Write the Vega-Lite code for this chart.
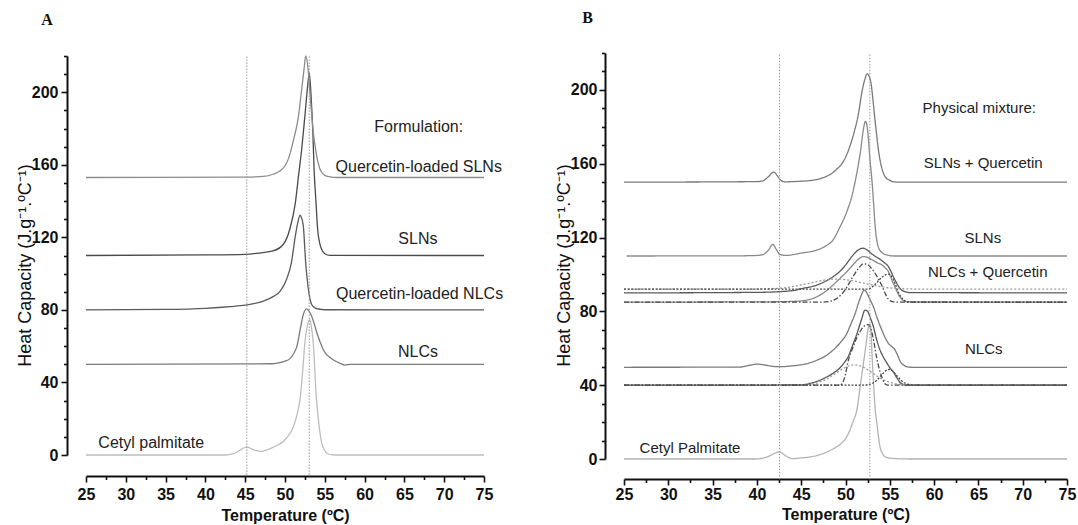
{
"$schema": "https://vega.github.io/schema/vega-lite/v6.json",
"autosize": {"type": "none"},
"width": 981,
"height": 406,
"padding": {"left": 86, "top": 53, "right": 11, "bottom": 66},
"background": "white",
"config": {
  "view": {"stroke": null},
  "axis": {"labelFont": "Liberation Sans", "titleFont": "Liberation Sans", "labelFontSize": 16, "labelFontWeight": "bold", "labelColor": "#111", "domainColor": "#111", "domainWidth": 2, "tickColor": "#111", "tickWidth": 1.6, "tickSize": 6, "grid": false, "titleColor": "#111", "labelFlush": false, "labelOverlap": false}
},
"datasets": {
"curvesA": [
{"s":"a_cp","t":25,"v":0},{"s":"a_cp","t":42.5,"v":0},{"s":"a_cp","t":43.1,"v":0.3},{"s":"a_cp","t":43.9,"v":1.4},{"s":"a_cp","t":44.6,"v":3.4},{"s":"a_cp","t":45.2,"v":4.5},{"s":"a_cp","t":45.8,"v":3.4},{"s":"a_cp","t":46.4,"v":2.4},{"s":"a_cp","t":47.0,"v":2.0},{"s":"a_cp","t":47.7,"v":2.8},{"s":"a_cp","t":48.5,"v":4.2},{"s":"a_cp","t":49.2,"v":5.8},{"s":"a_cp","t":49.8,"v":7.5},{"s":"a_cp","t":50.4,"v":10.5},{"s":"a_cp","t":51.0,"v":15},{"s":"a_cp","t":51.5,"v":22},{"s":"a_cp","t":51.9,"v":31},{"s":"a_cp","t":52.2,"v":45},{"s":"a_cp","t":52.5,"v":62},{"s":"a_cp","t":52.8,"v":71},{"s":"a_cp","t":53.1,"v":74.8},{"s":"a_cp","t":53.3,"v":71},{"s":"a_cp","t":53.55,"v":62},{"s":"a_cp","t":53.9,"v":34},{"s":"a_cp","t":54.2,"v":19.5},{"s":"a_cp","t":54.4,"v":12},{"s":"a_cp","t":54.6,"v":6.8},{"s":"a_cp","t":54.9,"v":3.2},{"s":"a_cp","t":55.4,"v":0.7},{"s":"a_cp","t":56,"v":0.1},{"s":"a_cp","t":56.5,"v":0},{"s":"a_cp","t":75,"v":0},
{"s":"a_nlc","t":25,"v":50},{"s":"a_nlc","t":48.5,"v":50.3},{"s":"a_nlc","t":49.4,"v":51},{"s":"a_nlc","t":50.0,"v":51.8},{"s":"a_nlc","t":50.6,"v":53},{"s":"a_nlc","t":51.1,"v":56},{"s":"a_nlc","t":51.5,"v":60},{"s":"a_nlc","t":51.9,"v":69},{"s":"a_nlc","t":52.3,"v":77.5},{"s":"a_nlc","t":52.7,"v":80.6},{"s":"a_nlc","t":53.0,"v":79.5},{"s":"a_nlc","t":53.35,"v":76.5},{"s":"a_nlc","t":53.7,"v":72},{"s":"a_nlc","t":54.0,"v":67.4},{"s":"a_nlc","t":54.4,"v":62.5},{"s":"a_nlc","t":54.8,"v":58.2},{"s":"a_nlc","t":55.2,"v":55.5},{"s":"a_nlc","t":55.7,"v":53.6},{"s":"a_nlc","t":56.3,"v":51.8},{"s":"a_nlc","t":56.9,"v":50.6},{"s":"a_nlc","t":57.5,"v":49.6},{"s":"a_nlc","t":58.2,"v":50},{"s":"a_nlc","t":75,"v":50},
{"s":"a_qnlc","t":25,"v":80},{"s":"a_qnlc","t":35,"v":80.3},{"s":"a_qnlc","t":40,"v":80.9},{"s":"a_qnlc","t":43.1,"v":81.8},{"s":"a_qnlc","t":45.0,"v":82.6},{"s":"a_qnlc","t":47.3,"v":84.9},{"s":"a_qnlc","t":48.5,"v":87.3},{"s":"a_qnlc","t":49.4,"v":90.4},{"s":"a_qnlc","t":50.2,"v":96.9},{"s":"a_qnlc","t":50.8,"v":106},{"s":"a_qnlc","t":51.3,"v":120.8},{"s":"a_qnlc","t":51.6,"v":128},{"s":"a_qnlc","t":51.9,"v":132.2},{"s":"a_qnlc","t":52.1,"v":130.5},{"s":"a_qnlc","t":52.3,"v":126.3},{"s":"a_qnlc","t":52.6,"v":106},{"s":"a_qnlc","t":53.0,"v":89.5},{"s":"a_qnlc","t":53.35,"v":83},{"s":"a_qnlc","t":53.8,"v":81},{"s":"a_qnlc","t":54.2,"v":80.5},{"s":"a_qnlc","t":55,"v":80.1},{"s":"a_qnlc","t":75,"v":80},
{"s":"a_sln","t":25,"v":110},{"s":"a_sln","t":40,"v":110.3},{"s":"a_sln","t":45,"v":110.6},{"s":"a_sln","t":47,"v":111.5},{"s":"a_sln","t":48.5,"v":112.5},{"s":"a_sln","t":49.8,"v":116.2},{"s":"a_sln","t":50.6,"v":124.5},{"s":"a_sln","t":51.3,"v":139},{"s":"a_sln","t":51.7,"v":154},{"s":"a_sln","t":52.1,"v":168.7},{"s":"a_sln","t":52.5,"v":187},{"s":"a_sln","t":52.85,"v":203.6},{"s":"a_sln","t":53.05,"v":210.5},{"s":"a_sln","t":53.3,"v":196},{"s":"a_sln","t":53.5,"v":178},{"s":"a_sln","t":53.65,"v":158},{"s":"a_sln","t":53.9,"v":139},{"s":"a_sln","t":54.1,"v":124.5},{"s":"a_sln","t":54.35,"v":117},{"s":"a_sln","t":54.6,"v":113.4},{"s":"a_sln","t":55.0,"v":111},{"s":"a_sln","t":55.65,"v":110.1},{"s":"a_sln","t":75,"v":110},
{"s":"a_qsln","t":25,"v":153},{"s":"a_qsln","t":45,"v":153.2},{"s":"a_qsln","t":47.3,"v":153.6},{"s":"a_qsln","t":48.5,"v":154.8},{"s":"a_qsln","t":49.4,"v":156.7},{"s":"a_qsln","t":50.0,"v":159.5},{"s":"a_qsln","t":50.4,"v":163},{"s":"a_qsln","t":51.0,"v":172.4},{"s":"a_qsln","t":51.7,"v":187},{"s":"a_qsln","t":52.1,"v":201.8},{"s":"a_qsln","t":52.4,"v":213},{"s":"a_qsln","t":52.6,"v":220},{"s":"a_qsln","t":52.9,"v":213},{"s":"a_qsln","t":53.2,"v":196},{"s":"a_qsln","t":53.55,"v":178},{"s":"a_qsln","t":53.9,"v":167},{"s":"a_qsln","t":54.4,"v":157.6},{"s":"a_qsln","t":55.0,"v":154.2},{"s":"a_qsln","t":55.65,"v":153.4},{"s":"a_qsln","t":56.5,"v":153},{"s":"a_qsln","t":75,"v":153}
],
"curvesB": [
{"s":"b_cp","t":25,"v":0},{"s":"b_cp","t":39.8,"v":0},{"s":"b_cp","t":40.6,"v":0.4},{"s":"b_cp","t":41.3,"v":1.4},{"s":"b_cp","t":41.9,"v":2.9},{"s":"b_cp","t":42.55,"v":3.9},{"s":"b_cp","t":43.0,"v":2.6},{"s":"b_cp","t":43.5,"v":1.0},{"s":"b_cp","t":44.1,"v":0.2},{"s":"b_cp","t":45.0,"v":0.6},{"s":"b_cp","t":46.0,"v":1.1},{"s":"b_cp","t":47.0,"v":2.2},{"s":"b_cp","t":47.9,"v":3.8},{"s":"b_cp","t":48.5,"v":5.2},{"s":"b_cp","t":49.0,"v":6.6},{"s":"b_cp","t":49.5,"v":8.3},{"s":"b_cp","t":50.0,"v":11},{"s":"b_cp","t":50.5,"v":15.6},{"s":"b_cp","t":50.9,"v":21},{"s":"b_cp","t":51.3,"v":27},{"s":"b_cp","t":51.65,"v":39},{"s":"b_cp","t":52.0,"v":51},{"s":"b_cp","t":52.3,"v":61.5},{"s":"b_cp","t":52.6,"v":71.7},{"s":"b_cp","t":52.75,"v":73},{"s":"b_cp","t":52.85,"v":71.7},{"s":"b_cp","t":53.0,"v":56},{"s":"b_cp","t":53.2,"v":38},{"s":"b_cp","t":53.35,"v":27},{"s":"b_cp","t":53.55,"v":19},{"s":"b_cp","t":53.9,"v":6.5},{"s":"b_cp","t":54.2,"v":2.8},{"s":"b_cp","t":54.5,"v":1.1},{"s":"b_cp","t":55.4,"v":0.3},{"s":"b_cp","t":57.5,"v":0},{"s":"b_cp","t":75,"v":0},
{"s":"b_nlc","t":25,"v":49.7},{"s":"b_nlc","t":38,"v":49.8},{"s":"b_nlc","t":39.2,"v":50.8},{"s":"b_nlc","t":40.0,"v":51.4},{"s":"b_nlc","t":40.8,"v":51.0},{"s":"b_nlc","t":41.8,"v":50.2},{"s":"b_nlc","t":42.6,"v":50.0},{"s":"b_nlc","t":44,"v":50.5},{"s":"b_nlc","t":45.5,"v":51.5},{"s":"b_nlc","t":46.8,"v":53.6},{"s":"b_nlc","t":47.8,"v":56},{"s":"b_nlc","t":48.6,"v":59},{"s":"b_nlc","t":49.4,"v":63},{"s":"b_nlc","t":50.15,"v":68},{"s":"b_nlc","t":50.6,"v":73},{"s":"b_nlc","t":51.1,"v":79},{"s":"b_nlc","t":51.5,"v":85},{"s":"b_nlc","t":51.85,"v":89.5},{"s":"b_nlc","t":52.1,"v":91.5},{"s":"b_nlc","t":52.35,"v":90.5},{"s":"b_nlc","t":52.7,"v":87},{"s":"b_nlc","t":53.15,"v":82.5},{"s":"b_nlc","t":53.6,"v":76},{"s":"b_nlc","t":54.1,"v":69.9},{"s":"b_nlc","t":54.5,"v":65.5},{"s":"b_nlc","t":54.85,"v":62.6},{"s":"b_nlc","t":55.2,"v":61},{"s":"b_nlc","t":55.6,"v":59},{"s":"b_nlc","t":55.9,"v":56},{"s":"b_nlc","t":56.2,"v":52.7},{"s":"b_nlc","t":56.6,"v":50.8},{"s":"b_nlc","t":56.9,"v":50},{"s":"b_nlc","t":57.5,"v":49.7},{"s":"b_nlc","t":75,"v":49.7},
{"s":"b_nlcf","t":25,"v":40},{"s":"b_nlcf","t":44.9,"v":40.1},{"s":"b_nlcf","t":46.0,"v":41},{"s":"b_nlcf","t":47.0,"v":42.5},{"s":"b_nlcf","t":47.9,"v":44.5},{"s":"b_nlcf","t":48.7,"v":46.8},{"s":"b_nlcf","t":49.4,"v":49.5},{"s":"b_nlcf","t":49.9,"v":52.5},{"s":"b_nlcf","t":50.3,"v":55.4},{"s":"b_nlcf","t":50.8,"v":61.5},{"s":"b_nlcf","t":51.3,"v":68},{"s":"b_nlcf","t":51.8,"v":75.5},{"s":"b_nlcf","t":52.2,"v":80.7},{"s":"b_nlcf","t":52.5,"v":80},{"s":"b_nlcf","t":52.8,"v":76.5},{"s":"b_nlcf","t":53.15,"v":71.7},{"s":"b_nlcf","t":53.5,"v":65},{"s":"b_nlcf","t":53.9,"v":59},{"s":"b_nlcf","t":54.3,"v":55},{"s":"b_nlcf","t":54.7,"v":51.8},{"s":"b_nlcf","t":55.0,"v":49.5},{"s":"b_nlcf","t":55.4,"v":47.2},{"s":"b_nlcf","t":55.8,"v":44},{"s":"b_nlcf","t":56.2,"v":41.3},{"s":"b_nlcf","t":56.6,"v":40.3},{"s":"b_nlcf","t":56.9,"v":40},{"s":"b_nlcf","t":75,"v":40},
{"s":"b_nlc1","t":25,"v":40},{"s":"b_nlc1","t":44,"v":40},{"s":"b_nlc1","t":45,"v":40.1},{"s":"b_nlc1","t":46,"v":40.5},{"s":"b_nlc1","t":47,"v":41.5},{"s":"b_nlc1","t":48,"v":43.6},{"s":"b_nlc1","t":49,"v":46.7},{"s":"b_nlc1","t":50,"v":49.7},{"s":"b_nlc1","t":51,"v":51},{"s":"b_nlc1","t":52,"v":49.7},{"s":"b_nlc1","t":53,"v":46.7},{"s":"b_nlc1","t":54,"v":43.6},{"s":"b_nlc1","t":55,"v":41.5},{"s":"b_nlc1","t":56,"v":40.5},{"s":"b_nlc1","t":57,"v":40.1},{"s":"b_nlc1","t":58,"v":40},{"s":"b_nlc1","t":75,"v":40},
{"s":"b_nlc2","t":25,"v":40},{"s":"b_nlc2","t":49.3,"v":40},{"s":"b_nlc2","t":49.6,"v":40.8},{"s":"b_nlc2","t":50.0,"v":46},{"s":"b_nlc2","t":50.3,"v":53},{"s":"b_nlc2","t":50.8,"v":60},{"s":"b_nlc2","t":51.3,"v":66},{"s":"b_nlc2","t":51.7,"v":69.5},{"s":"b_nlc2","t":52.0,"v":71.5},{"s":"b_nlc2","t":52.3,"v":72.6},{"s":"b_nlc2","t":52.6,"v":72.8},{"s":"b_nlc2","t":52.85,"v":70.5},{"s":"b_nlc2","t":53.1,"v":66},{"s":"b_nlc2","t":53.5,"v":55.4},{"s":"b_nlc2","t":53.8,"v":49},{"s":"b_nlc2","t":54.1,"v":44.5},{"s":"b_nlc2","t":54.45,"v":40.8},{"s":"b_nlc2","t":54.8,"v":40},{"s":"b_nlc2","t":75,"v":40},
{"s":"b_nlc3","t":25,"v":40},{"s":"b_nlc3","t":52.0,"v":40},{"s":"b_nlc3","t":52.5,"v":40.25},{"s":"b_nlc3","t":53.0,"v":40.9},{"s":"b_nlc3","t":53.5,"v":42.5},{"s":"b_nlc3","t":54.0,"v":45.2},{"s":"b_nlc3","t":54.5,"v":47.7},{"s":"b_nlc3","t":54.9,"v":48.5},{"s":"b_nlc3","t":55.3,"v":47.7},{"s":"b_nlc3","t":55.8,"v":45.2},{"s":"b_nlc3","t":56.3,"v":42.5},{"s":"b_nlc3","t":56.8,"v":40.9},{"s":"b_nlc3","t":57.3,"v":40.25},{"s":"b_nlc3","t":58,"v":40},{"s":"b_nlc3","t":75,"v":40},
{"s":"b_nq","t":25,"v":90},{"s":"b_nq","t":40,"v":90.3},{"s":"b_nq","t":44.0,"v":91.2},{"s":"b_nq","t":44.9,"v":92.2},{"s":"b_nq","t":46.8,"v":94.3},{"s":"b_nq","t":48.6,"v":98.8},{"s":"b_nq","t":49.4,"v":101.8},{"s":"b_nq","t":50.15,"v":106},{"s":"b_nq","t":50.6,"v":109},{"s":"b_nq","t":51.1,"v":111.8},{"s":"b_nq","t":51.5,"v":113.5},{"s":"b_nq","t":51.95,"v":114.2},{"s":"b_nq","t":52.4,"v":113.4},{"s":"b_nq","t":52.8,"v":111.8},{"s":"b_nq","t":53.3,"v":110},{"s":"b_nq","t":53.9,"v":108.2},{"s":"b_nq","t":54.4,"v":106.3},{"s":"b_nq","t":54.85,"v":104.2},{"s":"b_nq","t":55.1,"v":102},{"s":"b_nq","t":55.4,"v":98.8},{"s":"b_nq","t":55.7,"v":96},{"s":"b_nq","t":56.0,"v":93.4},{"s":"b_nq","t":56.35,"v":91.5},{"s":"b_nq","t":56.7,"v":90.7},{"s":"b_nq","t":57.2,"v":90.2},{"s":"b_nq","t":75,"v":90},
{"s":"b_nqf","t":25,"v":85},{"s":"b_nqf","t":42,"v":85.2},{"s":"b_nqf","t":44.9,"v":85.6},{"s":"b_nqf","t":46.0,"v":86.5},{"s":"b_nqf","t":46.8,"v":88},{"s":"b_nqf","t":47.8,"v":91},{"s":"b_nqf","t":48.6,"v":94.3},{"s":"b_nqf","t":49.4,"v":98},{"s":"b_nqf","t":50.15,"v":101.5},{"s":"b_nqf","t":50.8,"v":105},{"s":"b_nqf","t":51.4,"v":108},{"s":"b_nqf","t":52.0,"v":109.7},{"s":"b_nqf","t":52.5,"v":109.2},{"s":"b_nqf","t":53.15,"v":107.5},{"s":"b_nqf","t":53.6,"v":106.3},{"s":"b_nqf","t":54.1,"v":105.2},{"s":"b_nqf","t":54.5,"v":103.5},{"s":"b_nqf","t":54.85,"v":101.5},{"s":"b_nqf","t":55.1,"v":98.5},{"s":"b_nqf","t":55.4,"v":95.2},{"s":"b_nqf","t":55.7,"v":92},{"s":"b_nqf","t":56.0,"v":88.9},{"s":"b_nqf","t":56.35,"v":86.6},{"s":"b_nqf","t":56.7,"v":85.5},{"s":"b_nqf","t":57.2,"v":85.1},{"s":"b_nqf","t":75,"v":85},
{"s":"b_nq1","t":25,"v":92},{"s":"b_nq1","t":38,"v":92},{"s":"b_nq1","t":40,"v":92.1},{"s":"b_nq1","t":42,"v":92.4},{"s":"b_nq1","t":43,"v":92.7},{"s":"b_nq1","t":44,"v":93.4},{"s":"b_nq1","t":45,"v":94.3},{"s":"b_nq1","t":46,"v":95.3},{"s":"b_nq1","t":47,"v":96.4},{"s":"b_nq1","t":48,"v":97.2},{"s":"b_nq1","t":49,"v":97.5},{"s":"b_nq1","t":50,"v":97.2},{"s":"b_nq1","t":51,"v":96.4},{"s":"b_nq1","t":52,"v":95.3},{"s":"b_nq1","t":53,"v":94.3},{"s":"b_nq1","t":54,"v":93.4},{"s":"b_nq1","t":55,"v":92.7},{"s":"b_nq1","t":56,"v":92.4},{"s":"b_nq1","t":57,"v":92.2},{"s":"b_nq1","t":58,"v":92.1},{"s":"b_nq1","t":60,"v":92},{"s":"b_nq1","t":75,"v":92},
{"s":"b_nq2","t":25,"v":85},{"s":"b_nq2","t":47.5,"v":85},{"s":"b_nq2","t":48.3,"v":85.5},{"s":"b_nq2","t":49.0,"v":87},{"s":"b_nq2","t":49.6,"v":89.5},{"s":"b_nq2","t":50.0,"v":92},{"s":"b_nq2","t":50.5,"v":96},{"s":"b_nq2","t":51.0,"v":100},{"s":"b_nq2","t":51.5,"v":103.5},{"s":"b_nq2","t":52.0,"v":105.8},{"s":"b_nq2","t":52.4,"v":105.6},{"s":"b_nq2","t":52.8,"v":104},{"s":"b_nq2","t":53.15,"v":102},{"s":"b_nq2","t":53.6,"v":98.5},{"s":"b_nq2","t":54.1,"v":94},{"s":"b_nq2","t":54.5,"v":89.5},{"s":"b_nq2","t":54.85,"v":86.5},{"s":"b_nq2","t":55.3,"v":85.3},{"s":"b_nq2","t":55.8,"v":85},{"s":"b_nq2","t":75,"v":85},
{"s":"b_nq3","t":25,"v":92},{"s":"b_nq3","t":52.5,"v":92},{"s":"b_nq3","t":53.2,"v":94},{"s":"b_nq3","t":53.9,"v":97.5},{"s":"b_nq3","t":54.5,"v":99.8},{"s":"b_nq3","t":54.85,"v":100.2},{"s":"b_nq3","t":55.2,"v":99},{"s":"b_nq3","t":55.6,"v":95},{"s":"b_nq3","t":56.0,"v":90},{"s":"b_nq3","t":56.5,"v":86.5},{"s":"b_nq3","t":57.0,"v":85.2},{"s":"b_nq3","t":58,"v":85},{"s":"b_nq3","t":75,"v":85},
{"s":"b_sln","t":25.3,"v":110},{"s":"b_sln","t":38,"v":110.1},{"s":"b_sln","t":40.0,"v":110.3},{"s":"b_sln","t":40.7,"v":110.8},{"s":"b_sln","t":41.3,"v":113.2},{"s":"b_sln","t":41.8,"v":116.3},{"s":"b_sln","t":42.2,"v":113.5},{"s":"b_sln","t":42.6,"v":110.8},{"s":"b_sln","t":43.2,"v":110.3},{"s":"b_sln","t":44.9,"v":111.5},{"s":"b_sln","t":46.8,"v":113.3},{"s":"b_sln","t":47.8,"v":115.5},{"s":"b_sln","t":48.6,"v":118.7},{"s":"b_sln","t":49.4,"v":126},{"s":"b_sln","t":49.9,"v":131},{"s":"b_sln","t":50.3,"v":136},{"s":"b_sln","t":50.7,"v":142},{"s":"b_sln","t":51.2,"v":153},{"s":"b_sln","t":51.7,"v":167},{"s":"b_sln","t":52.0,"v":178},{"s":"b_sln","t":52.25,"v":183},{"s":"b_sln","t":52.5,"v":178},{"s":"b_sln","t":52.75,"v":163},{"s":"b_sln","t":53.0,"v":150},{"s":"b_sln","t":53.15,"v":140},{"s":"b_sln","t":53.35,"v":126},{"s":"b_sln","t":53.7,"v":115},{"s":"b_sln","t":54.2,"v":111.5},{"s":"b_sln","t":54.7,"v":110.5},{"s":"b_sln","t":55.5,"v":110},{"s":"b_sln","t":75,"v":110},
{"s":"b_slnq","t":25,"v":150},{"s":"b_slnq","t":40,"v":150.3},{"s":"b_slnq","t":40.7,"v":150.8},{"s":"b_slnq","t":41.3,"v":153},{"s":"b_slnq","t":41.9,"v":155.5},{"s":"b_slnq","t":42.3,"v":153.5},{"s":"b_slnq","t":42.7,"v":151},{"s":"b_slnq","t":43.2,"v":150.2},{"s":"b_slnq","t":44.5,"v":150.4},{"s":"b_slnq","t":46.5,"v":151.2},{"s":"b_slnq","t":47.5,"v":152.5},{"s":"b_slnq","t":48.4,"v":154.6},{"s":"b_slnq","t":49.0,"v":157},{"s":"b_slnq","t":49.6,"v":160},{"s":"b_slnq","t":50.1,"v":164.5},{"s":"b_slnq","t":50.6,"v":171},{"s":"b_slnq","t":51.0,"v":177.5},{"s":"b_slnq","t":51.4,"v":185.5},{"s":"b_slnq","t":51.9,"v":200},{"s":"b_slnq","t":52.2,"v":206},{"s":"b_slnq","t":52.45,"v":208.7},{"s":"b_slnq","t":52.7,"v":207},{"s":"b_slnq","t":52.9,"v":203},{"s":"b_slnq","t":53.1,"v":194.6},{"s":"b_slnq","t":53.3,"v":185},{"s":"b_slnq","t":53.5,"v":176.4},{"s":"b_slnq","t":53.7,"v":168},{"s":"b_slnq","t":53.9,"v":161.9},{"s":"b_slnq","t":54.2,"v":156},{"s":"b_slnq","t":54.5,"v":152.8},{"s":"b_slnq","t":55.0,"v":151},{"s":"b_slnq","t":55.4,"v":150.2},{"s":"b_slnq","t":56,"v":150},{"s":"b_slnq","t":75,"v":150}
]
},
"layer": [
{
  "layer": [
    {
      "data": {"name": "curvesA"},
      "mark": {"type": "line", "interpolate": "monotone", "strokeWidth": 1.3},
      "encoding": {
        "x": {"field": "t", "type": "quantitative", "scale": {"domain": [25, 75], "range": [0, 398], "nice": false, "zero": false},
              "axis": {"orient": "bottom", "offset": 17, "values": [25,30,35,40,45,50,55,60,65,70,75], "format": "d", "title": "Temperature (ºC)", "titleFontSize": 16, "titleFontWeight": "bold", "titleBaseline": "middle", "titleY": 39, "labelPadding": 4}},
        "y": {"field": "v", "type": "quantitative", "scale": {"domain": [0, 220], "range": [402, 3], "nice": false, "zero": false},
              "axis": {"orient": "left", "offset": 19, "values": [0,40,80,120,160,200], "format": "d", "title": "Heat Capacity (J.g⁻¹.ºC⁻¹)", "titleFontSize": 18, "titleFontWeight": "normal", "titleAngle": -90, "titleBaseline": "middle", "titleAlign": "center", "titleX": -42, "titleY": 212, "labelPadding": 3}},
        "color": {"field": "s", "type": "nominal", "legend": null,
                  "scale": {"domain": ["a_cp","a_nlc","a_qnlc","a_sln","a_qsln"], "range": ["#bdbdbd","#7c7c7c","#5a5a5a","#4a4a4a","#8c8c8c"]}}
      }
    },
    {
      "data": {"values": [{"t": 45.2, "lo": -11, "hi": 220}, {"t": 53.05, "lo": -11, "hi": 220}]},
      "mark": {"type": "rule", "color": "#9a9a9a", "strokeWidth": 1, "strokeDash": [1.5, 1.5]},
      "encoding": {
        "x": {"field": "t", "type": "quantitative", "scale": {"domain": [25, 75], "range": [0, 398], "nice": false, "zero": false},
              "axis": {"orient": "bottom", "offset": 17, "values": [27.5,32.5,37.5,42.5,47.5,52.5,57.5,62.5,67.5,72.5], "labels": false, "domain": false, "tickSize": 3.5, "title": null}},
        "y": {"field": "lo", "type": "quantitative", "scale": {"domain": [0, 220], "range": [402, 3], "nice": false, "zero": false},
              "axis": {"orient": "left", "offset": 19, "values": [10,20,30,50,60,70,90,100,110,130,140,150,170,180,190,210,220], "labels": false, "domain": false, "tickSize": 3.5, "title": null}},
        "y2": {"field": "hi"}
      }
    },
    {
      "data": {"values": [
        {"t": 66.8, "v": 181, "label": "Formulation:"},
        {"t": 66.8, "v": 159, "label": "Quercetin-loaded SLNs"},
        {"t": 66.7, "v": 119.3, "label": "SLNs"},
        {"t": 66.9, "v": 88.5, "label": "Quercetin-loaded NLCs"},
        {"t": 66.7, "v": 57, "label": "NLCs"},
        {"t": 33.2, "v": 6.8, "label": "Cetyl palmitate"}
      ]},
      "mark": {"type": "text", "font": "Liberation Sans", "fontSize": 16, "color": "#222", "align": "center", "baseline": "middle"},
      "encoding": {
        "x": {"field": "t", "type": "quantitative", "scale": {"domain": [25, 75], "range": [0, 398], "nice": false, "zero": false}, "axis": null},
        "y": {"field": "v", "type": "quantitative", "scale": {"domain": [0, 220], "range": [402, 3], "nice": false, "zero": false}, "axis": null},
        "text": {"field": "label"}
      }
    },
    {
      "data": {"values": [{"t": 20.1, "v": 240, "label": "A"}]},
      "mark": {"type": "text", "font": "Liberation Serif", "fontSize": 16, "fontWeight": "bold", "color": "#111", "align": "center", "baseline": "middle"},
      "encoding": {
        "x": {"field": "t", "type": "quantitative", "scale": {"domain": [25, 75], "range": [0, 398], "nice": false, "zero": false}, "axis": null},
        "y": {"field": "v", "type": "quantitative", "scale": {"domain": [0, 220], "range": [402, 3], "nice": false, "zero": false}, "axis": null},
        "text": {"field": "label"}
      }
    }
  ],
  "resolve": {"axis": {"x": "independent", "y": "independent"}}
},
{
  "layer": [
    {
      "data": {"name": "curvesB"},
      "mark": {"type": "line", "interpolate": "monotone", "strokeWidth": 1.3},
      "encoding": {
        "x": {"field": "t", "type": "quantitative", "scale": {"domain": [25, 75], "range": [538, 981], "nice": false, "zero": false},
              "axis": {"orient": "bottom", "offset": 20, "values": [25,30,35,40,45,50,55,60,65,70,75], "format": "d", "title": "Temperature (ºC)", "titleFontSize": 16, "titleFontWeight": "bold", "titleBaseline": "middle", "titleY": 35, "labelPadding": 1}},
        "y": {"field": "v", "type": "quantitative", "scale": {"domain": [0, 220], "range": [406, 0], "nice": false, "zero": false},
              "axis": {"orient": "left", "offset": -519, "values": [0,40,80,120,160,200], "format": "d", "title": "Heat Capacity (J.g⁻¹.ºC⁻¹)", "titleFontSize": 18, "titleFontWeight": "normal", "titleAngle": -90, "titleBaseline": "middle", "titleAlign": "center", "titleX": -41, "titleY": 212, "labelPadding": 2}},
        "color": {"field": "s", "type": "nominal", "legend": null,
                  "scale": {"domain": ["b_cp","b_nlc","b_nlcf","b_nlc1","b_nlc2","b_nlc3","b_nq","b_nqf","b_nq1","b_nq2","b_nq3","b_sln","b_slnq"],
                            "range": ["#b3b3b3","#7a7a7a","#555555","#9a9a9a","#4a4a4a","#4a4a4a","#5a5a5a","#8a8a8a","#9a9a9a","#4a4a4a","#4a4a4a","#8a8a8a","#7a7a7a"]}},
        "strokeDash": {"field": "s", "type": "nominal", "legend": null,
                  "scale": {"domain": ["b_cp","b_nlc","b_nlcf","b_nlc1","b_nlc2","b_nlc3","b_nq","b_nqf","b_nq1","b_nq2","b_nq3","b_sln","b_slnq"],
                            "range": [[1,0],[1,0],[1,0],[2,2],[5,2,1.5,2],[2,1.5],[1,0],[1,0],[2,2],[5,2,1.5,2],[2,1.5],[1,0],[1,0]]}}
      }
    },
    {
      "data": {"values": [{"t": 42.55, "lo": -11, "hi": 220}, {"t": 52.75, "lo": -11, "hi": 220}]},
      "mark": {"type": "rule", "color": "#9a9a9a", "strokeWidth": 1, "strokeDash": [1.5, 1.5]},
      "encoding": {
        "x": {"field": "t", "type": "quantitative", "scale": {"domain": [25, 75], "range": [538, 981], "nice": false, "zero": false},
              "axis": {"orient": "bottom", "offset": 20, "values": [27.5,32.5,37.5,42.5,47.5,52.5,57.5,62.5,67.5,72.5], "labels": false, "domain": false, "tickSize": 3.5, "title": null}},
        "y": {"field": "lo", "type": "quantitative", "scale": {"domain": [0, 220], "range": [406, 0], "nice": false, "zero": false},
              "axis": {"orient": "left", "offset": -519, "values": [10,20,30,50,60,70,90,100,110,130,140,150,170,180,190,210,220], "labels": false, "domain": false, "tickSize": 3.5, "title": null}},
        "y2": {"field": "hi"}
      }
    },
    {
      "data": {"values": [
        {"t": 65.1, "v": 190, "label": "Physical mixture:"},
        {"t": 65.55, "v": 160.6, "label": "SLNs + Quercetin"},
        {"t": 65.5, "v": 119.8, "label": "SLNs"},
        {"t": 66.05, "v": 101.2, "label": "NLCs + Quercetin"},
        {"t": 65.6, "v": 59.8, "label": "NLCs"},
        {"t": 32.45, "v": 5.8, "label": "Cetyl Palmitate"}
      ]},
      "mark": {"type": "text", "font": "Liberation Sans", "fontSize": 15, "color": "#222", "align": "center", "baseline": "middle"},
      "encoding": {
        "x": {"field": "t", "type": "quantitative", "scale": {"domain": [25, 75], "range": [538, 981], "nice": false, "zero": false}, "axis": null},
        "y": {"field": "v", "type": "quantitative", "scale": {"domain": [0, 220], "range": [406, 0], "nice": false, "zero": false}, "axis": null},
        "text": {"field": "label"}
      }
    },
    {
      "data": {"values": [{"t": 20.9, "v": 239, "label": "B"}]},
      "mark": {"type": "text", "font": "Liberation Serif", "fontSize": 16, "fontWeight": "bold", "color": "#111", "align": "center", "baseline": "middle"},
      "encoding": {
        "x": {"field": "t", "type": "quantitative", "scale": {"domain": [25, 75], "range": [538, 981], "nice": false, "zero": false}, "axis": null},
        "y": {"field": "v", "type": "quantitative", "scale": {"domain": [0, 220], "range": [406, 0], "nice": false, "zero": false}, "axis": null},
        "text": {"field": "label"}
      }
    }
  ],
  "resolve": {"axis": {"x": "independent", "y": "independent"}}
}
],
"resolve": {"scale": {"x": "independent", "y": "independent", "color": "independent", "strokeDash": "independent"}}
}
